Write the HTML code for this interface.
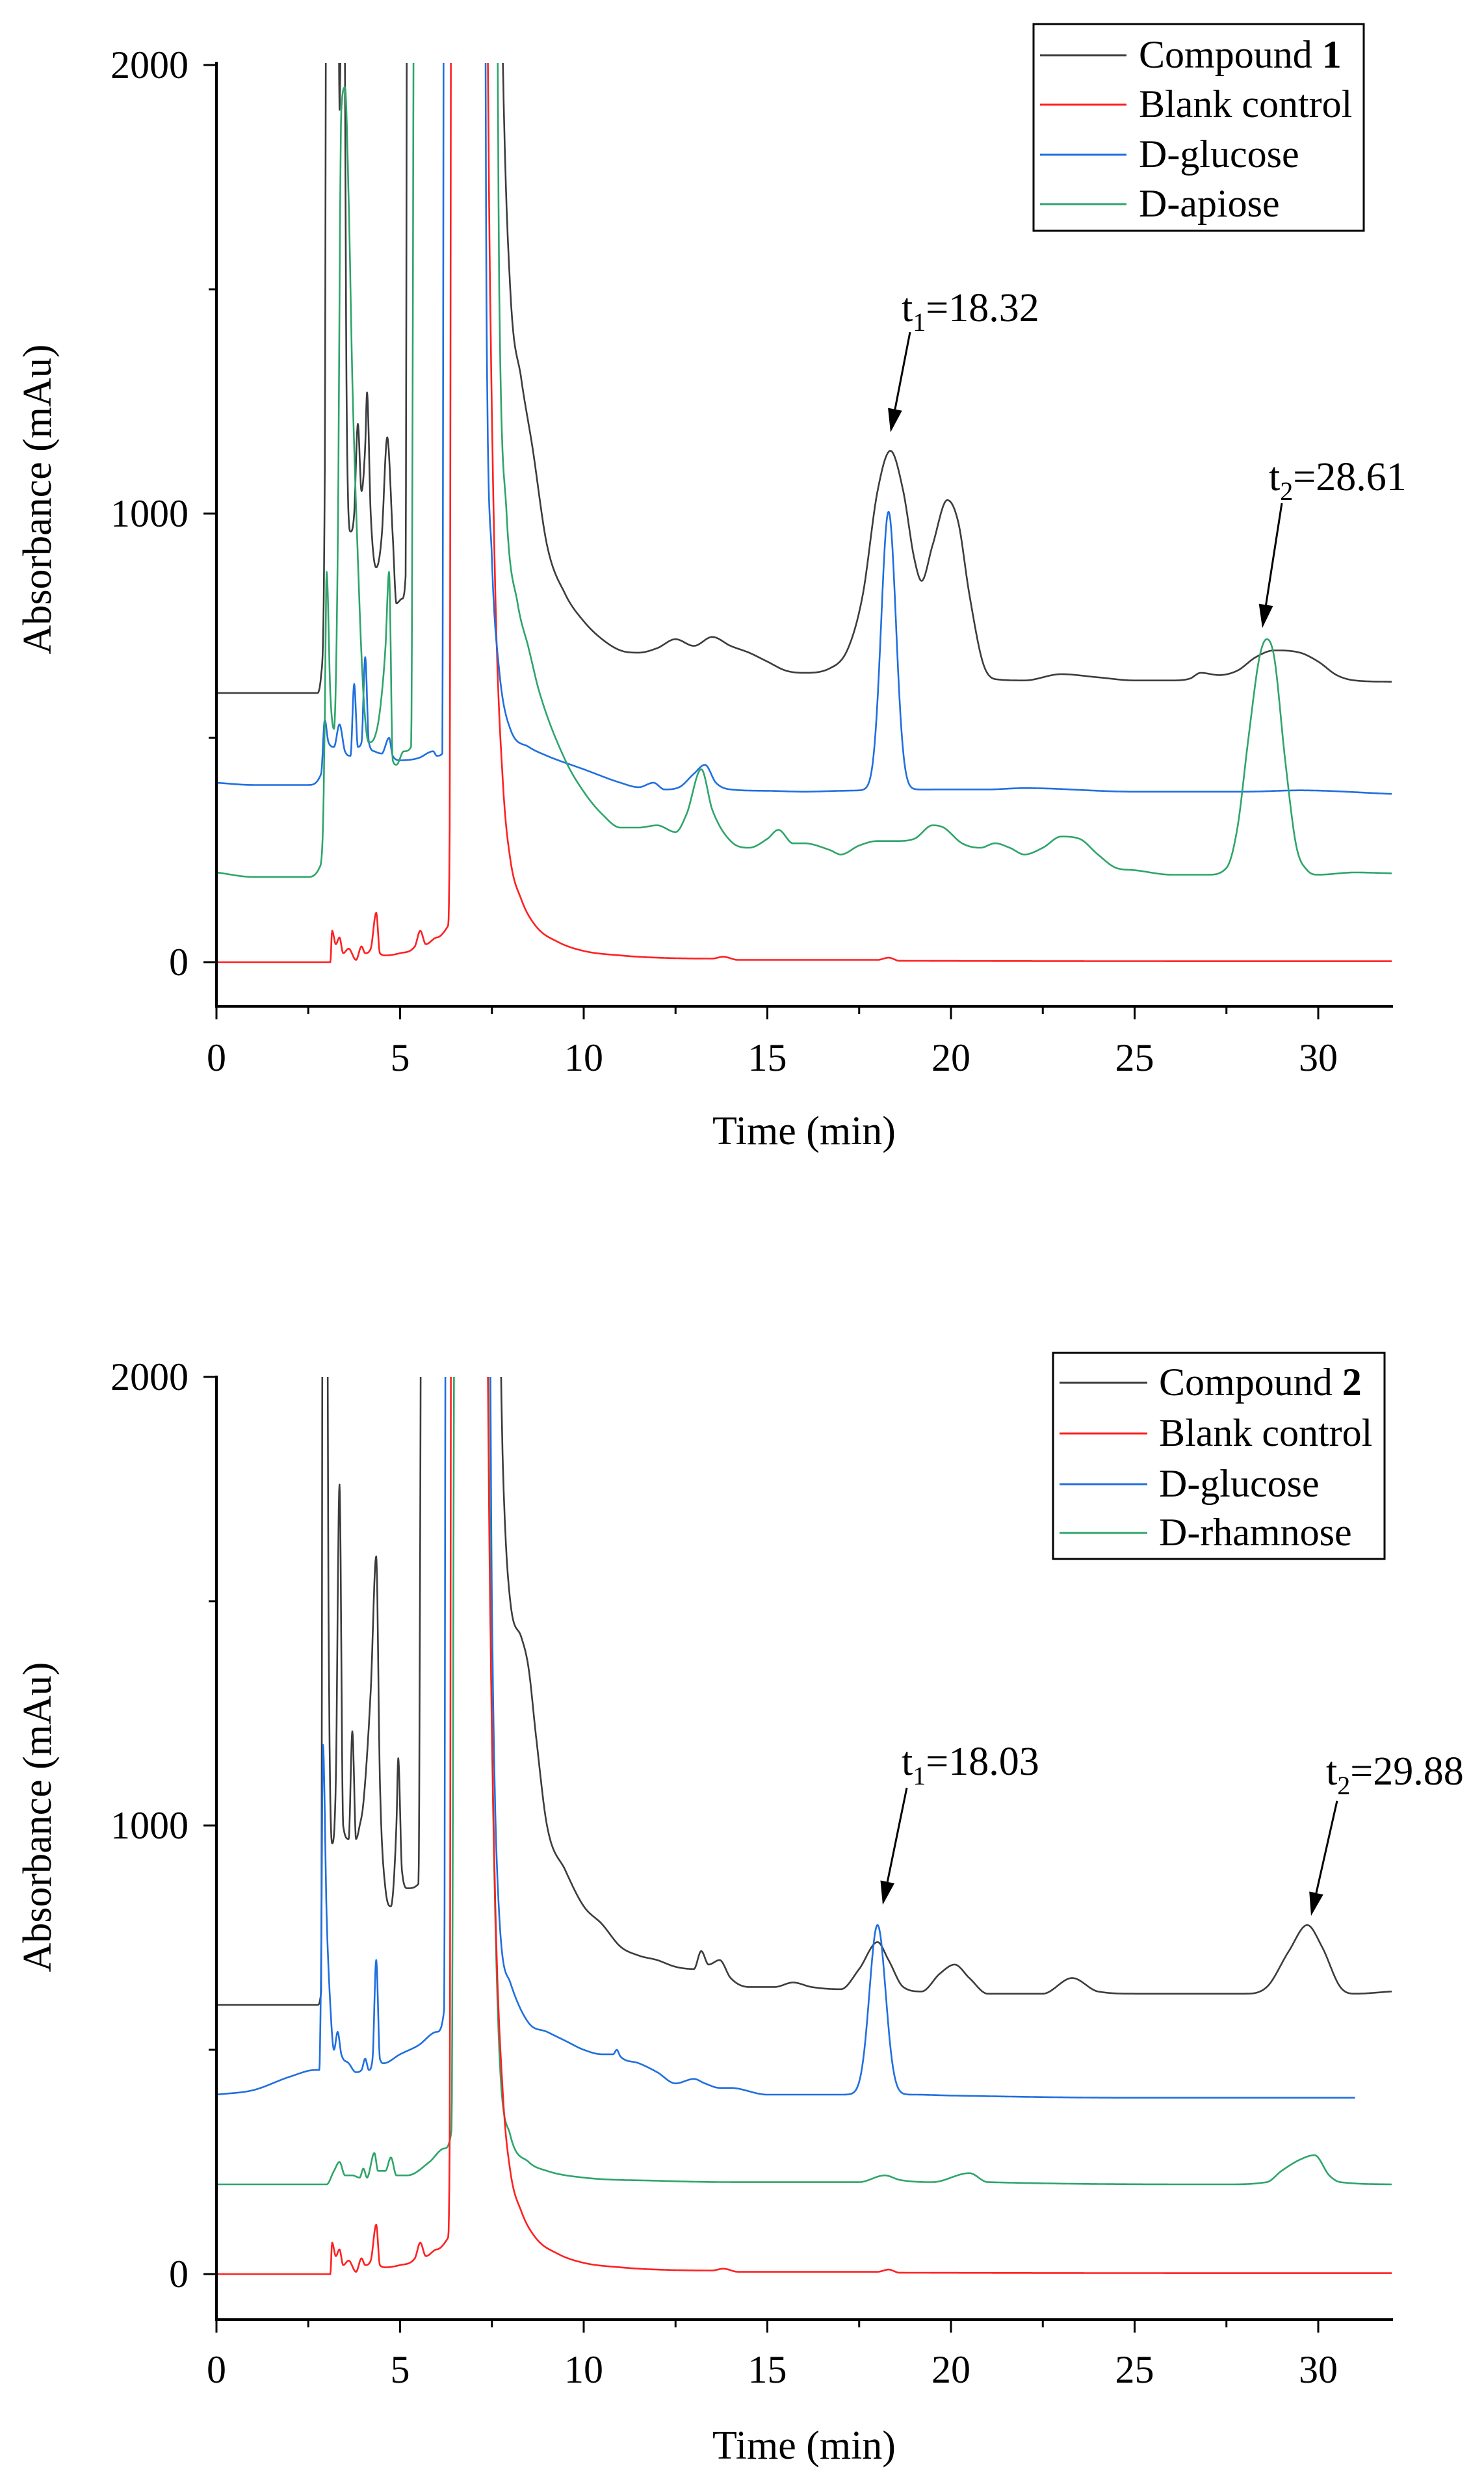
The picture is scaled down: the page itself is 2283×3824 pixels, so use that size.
<!DOCTYPE html>
<html><head><meta charset="utf-8">
<style>
html,body{margin:0;padding:0;background:#fff;}
svg{display:block;font-family:"Liberation Serif","Times New Roman",serif;}
</style></head>
<body>
<svg id="s" width="2283" height="3824" viewBox="0 0 2283 3824" xmlns="http://www.w3.org/2000/svg">
<defs>
<clipPath id="c1"><rect x="333" y="97" width="1810" height="1450"/></clipPath>
<clipPath id="c2"><rect x="333" y="2118" width="1810" height="1448"/></clipPath>
</defs>
<g id="g1" clip-path="url(#c1)"></g>
<g id="g2" clip-path="url(#c2)"></g>
<g id="ax"></g>
<rect x="1590" y="37" width="508" height="318" fill="#fff" stroke="#000" stroke-width="3"/>
<line x1="1600" y1="85" x2="1733" y2="85" stroke="#3c3c3c" stroke-width="3"/>
<line x1="1600" y1="161" x2="1733" y2="161" stroke="#ff2020" stroke-width="3"/>
<line x1="1600" y1="238" x2="1733" y2="238" stroke="#1f6fe0" stroke-width="3"/>
<line x1="1600" y1="314" x2="1733" y2="314" stroke="#2ea56a" stroke-width="3"/>
<g font-size="60" fill="#000">
<text x="1752" y="104">Compound <tspan font-weight="bold">1</tspan></text>
<text x="1752" y="180">Blank control</text>
<text x="1752" y="257">D-glucose</text>
<text x="1752" y="333">D-apiose</text>
</g>
<rect x="1620" y="2081" width="510" height="317" fill="#fff" stroke="#000" stroke-width="3"/>
<line x1="1630" y1="2127" x2="1765" y2="2127" stroke="#3c3c3c" stroke-width="3"/>
<line x1="1630" y1="2205" x2="1765" y2="2205" stroke="#ff2020" stroke-width="3"/>
<line x1="1630" y1="2283" x2="1765" y2="2283" stroke="#1f6fe0" stroke-width="3"/>
<line x1="1630" y1="2358" x2="1765" y2="2358" stroke="#2ea56a" stroke-width="3"/>
<g font-size="60" fill="#000">
<text x="1783" y="2146">Compound <tspan font-weight="bold">2</tspan></text>
<text x="1783" y="2224">Blank control</text>
<text x="1783" y="2302">D-glucose</text>
<text x="1783" y="2377">D-rhamnose</text>
</g>
<g font-size="62" fill="#000">
<text x="1387" y="494">t<tspan font-size="40" dy="15">1</tspan><tspan dy="-15">=18.32</tspan></text>
<text x="1952" y="754">t<tspan font-size="40" dy="15">2</tspan><tspan dy="-15">=28.61</tspan></text>
<text x="1387" y="2730">t<tspan font-size="40" dy="15">1</tspan><tspan dy="-15">=18.03</tspan></text>
<text x="2040" y="2745">t<tspan font-size="40" dy="15">2</tspan><tspan dy="-15">=29.88</tspan></text>
</g>
<g id="arr"></g>
</svg>
<script>
var NS="http://www.w3.org/2000/svg";
function el(p,tag,a){var e=document.createElementNS(NS,tag);for(var k in a)e.setAttribute(k,a[k]);p.appendChild(e);return e;}
function X(t){return 333+t*56.5;}
function tangents(pts){
 var n=pts.length,d=[],m=[];
 for(var i=0;i<n-1;i++)d.push((pts[i+1][1]-pts[i][1])/(pts[i+1][0]-pts[i][0]));
 m[0]=d[0];m[n-1]=d[n-2];
 for(var i=1;i<n-1;i++){ if(d[i-1]*d[i]<=0)m[i]=0; else m[i]=(d[i-1]+d[i])/2; }
 for(var i=0;i<n-1;i++){
  if(d[i]==0){m[i]=0;m[i+1]=0;continue;}
  var a=m[i]/d[i],b=m[i+1]/d[i],s=a*a+b*b;
  if(s>9){var tt=3/Math.sqrt(s);m[i]=tt*a*d[i];m[i+1]=tt*b*d[i];}
 }
 return m;
}
function interp(pts,m,t){
 if(t<=pts[0][0])return pts[0][1];
 for(var i=1;i<pts.length;i++){if(t<=pts[i][0]){
  var a=pts[i-1],b=pts[i],h=b[0]-a[0],s=(t-a[0])/h;
  var h00=2*s*s*s-3*s*s+1,h10=s*s*s-2*s*s+s,h01=-2*s*s*s+3*s*s,h11=s*s*s-s*s;
  return h00*a[1]+h10*h*m[i-1]+h01*b[1]+h11*h*m[i];}}
 return pts[pts.length-1][1];
}
function draw(g,pts,gs,col,y0,tmax){
 var m=tangents(pts);
 var Y=function(v){return y0-v*0.69;};
 var d="";var tm=tmax||32;
 for(var t=0;t<=tm+1e-6;t+=0.01){
  var v=interp(pts,m,t);
  if(gs)gs.forEach(function(q){v+=q[1]*Math.exp(-Math.pow(t-q[0],2)/(2*q[2]*q[2]));});
  if(v>2600)v=2600;
  d+=(d?"L":"M")+X(t).toFixed(1)+","+Y(v).toFixed(1);
 }
 el(g,"path",{d:d,fill:"none",stroke:col,"stroke-width":2.6,"stroke-linejoin":"round"});
}
var GR="#3c3c3c",RD="#ff2020",BL="#1f6fe0",GN="#2ea56a";
var red=[[0,0],[3.1,0],[3.15,70],[3.25,40],[3.35,55],[3.45,20],[3.6,30],[3.8,5],[3.95,35],[4.05,20],[4.2,30],[4.35,110],[4.45,20],[4.6,15],[5.0,20],[5.4,35],[5.55,70],[5.7,40],[6.0,55],[6.3,80],[6.35,300],[6.4,2600],[7.3,2600],[7.45,1500],[7.6,800],[7.8,400],[8.0,230],[8.3,140],[8.7,80],[9.3,45],[10,25],[11,15],[12,10],[13.5,8],[13.8,12],[14.2,5],[18,5],[18.3,10],[18.6,3],[32,2]];
var c1=[[0,600],[2.75,600],[2.85,640],[2.95,1100],[3.0,2600],[3.3,2600],[3.35,1900],[3.45,2600],[3.55,1200],[3.65,960],[3.75,1000],[3.85,1200],[3.95,1050],[4.05,1150],[4.1,1270],[4.2,1000],[4.35,880],[4.5,950],[4.65,1170],[4.8,950],[4.9,800],[5.05,810],[5.15,860],[5.2,2600],[7.7,2600],[7.8,2000],[8.0,1500],[8.3,1300],[8.6,1150],[9.0,930],[9.5,820],[10,760],[10.5,720],[11,695],[11.5,690],[12,700],[12.5,720],[13,705],[13.5,725],[14,705],[14.5,690],[15,670],[15.5,650],[16,645],[16.7,655],[17.2,700],[17.6,820],[18.0,1050],[18.35,1140],[18.7,1050],[19.0,900],[19.2,850],[19.5,930],[19.9,1030],[20.2,980],[20.5,820],[20.9,660],[21.3,630],[22,628],[23,642],[24,635],[25,628],[26,628],[26.5,632],[26.8,645],[27.3,640],[27.8,650],[28.3,680],[28.8,695],[29.5,690],[30,670],[30.5,640],[31,628],[32,625]];
var b1=[[0,400],[1,395],[2.5,395],[2.85,420],[2.95,540],[3.05,490],[3.2,480],[3.35,530],[3.5,470],[3.65,460],[3.75,620],[3.85,480],[3.95,490],[4.05,680],[4.15,490],[4.3,470],[4.5,465],[4.7,500],[4.8,460],[5,450],[5.5,455],[5.9,470],[6.0,460],[6.15,465],[6.2,2600],[7.3,2600],[7.35,1500],[7.5,900],[7.7,650],[8.0,520],[8.5,480],[9,460],[10,430],[11,400],[11.5,390],[11.9,400],[12.2,385],[12.6,390],[13.0,420],[13.3,440],[13.6,400],[14,385],[15,382],[16,380],[17,382],[19.5,385],[21,385],[22,388],[25,380],[28,380],[29.5,383],[32,375]];
var g1=[[0,200],[1,190],[2.5,190],[2.8,210],[2.9,300],[2.95,550],[3.0,870],[3.1,600],[3.2,520],[3.3,900],[3.4,1900],[3.5,1950],[3.6,1700],[3.7,1300],[3.85,900],[4.0,600],[4.15,490],[4.3,500],[4.45,560],[4.6,700],[4.7,870],[4.8,450],[4.9,440],[5.1,470],[5.3,480],[5.4,2600],[7.6,2600],[7.7,1500],[7.9,1000],[8.2,800],[8.5,700],[8.8,600],[9.5,450],[10,380],[10.5,330],[11,300],[11.5,300],[12,305],[12.5,290],[12.8,330],[13.2,430],[13.5,340],[14,270],[14.5,255],[15,275],[15.3,295],[15.7,265],[16,265],[16.7,250],[17,240],[17.5,260],[18,270],[18.5,270],[19,275],[19.5,305],[19.8,300],[20.3,265],[20.8,255],[21.2,265],[21.6,255],[22,240],[22.5,255],[23,280],[23.5,275],[24,240],[24.5,210],[25,205],[26,195],[27,195],[27.5,210],[27.8,300],[28.1,500],[28.4,680],[28.6,720],[28.8,680],[29.1,450],[29.4,260],[29.7,205],[30,195],[31,200],[32,198]];
var c2=[[0,600],[2.75,600],[2.85,630],[2.9,2600],[3.0,2600],[3.05,1500],[3.15,960],[3.25,1100],[3.35,1760],[3.45,1000],[3.6,970],[3.7,1210],[3.8,970],[3.9,1000],[4.0,1050],[4.2,1300],[4.35,1600],[4.45,1100],[4.6,860],[4.75,820],[4.9,1000],[4.95,1150],[5.05,900],[5.2,860],[5.5,870],[5.6,2600],[7.6,2600],[7.8,1800],[8,1500],[8.3,1420],[8.5,1350],[8.7,1200],[9,1000],[9.5,900],[10,820],[10.5,780],[11,730],[11.5,710],[12,700],[12.5,685],[13,680],[13.2,720],[13.4,690],[13.7,700],[14,660],[14.5,640],[15.2,640],[15.7,650],[16.2,640],[17,635],[17.5,680],[18,740],[18.3,700],[18.7,640],[19.2,630],[19.7,670],[20.1,690],[20.5,660],[21,625],[22.5,625],[23.3,660],[24,630],[25,625],[27,625],[28,625],[28.6,640],[29.2,720],[29.7,778],[30.1,730],[30.6,640],[31,625],[32,630]];
var b2=[[0,400],[1,410],[2,440],[2.7,455],[2.8,455],[2.85,700],[2.9,1180],[3.0,800],[3.1,600],[3.2,500],[3.3,540],[3.4,490],[3.6,470],[3.8,450],[3.95,455],[4.05,480],[4.15,455],[4.25,480],[4.35,700],[4.45,480],[4.55,470],[5,490],[5.5,510],[6,540],[6.2,590],[6.25,2600],[7.4,2600],[7.5,1500],[7.7,800],[8,650],[8.5,560],[9,540],[9.5,520],[10,500],[10.5,490],[10.8,490],[10.9,500],[11,485],[11.5,470],[12,450],[12.5,425],[13,435],[13.3,425],[13.7,415],[14,415],[15,400],[17,400],[19,400],[20,398],[25,393],[31,393]];
var gg2=[[0,200],[3.0,200],[3.2,230],[3.35,250],[3.5,220],[3.7,220],[3.9,215],[4.0,235],[4.1,215],[4.3,270],[4.4,230],[4.6,230],[4.75,260],[4.9,220],[5.2,220],[5.8,250],[6.2,280],[6.4,320],[6.5,2600],[7.3,2600],[7.5,1200],[7.7,500],[8,310],[8.5,250],[9,230],[10,215],[12,208],[14,205],[17.5,205],[18.2,220],[18.6,210],[19.5,205],[20.5,225],[21,205],[27.5,200],[28.6,205],[29,230],[29.5,255],[29.9,265],[30.3,220],[30.6,205],[32,200]];
var G1=document.getElementById("g1"),G2=document.getElementById("g2");
draw(G1,c1,null,GR,1480);
draw(G1,red,null,RD,1480);
draw(G1,b1,[[18.3,620,0.2]],BL,1480);
draw(G1,g1,null,GN,1480);
draw(G2,c2,null,GR,3498);
draw(G2,b2,[[18.0,378,0.22]],BL,3498,31);
draw(G2,gg2,null,GN,3498);
draw(G2,red,null,RD,3498);
var A=document.getElementById("ax");
function axes(y0,yTop,yBot,labY,titY,ylabY){
 el(A,"line",{x1:333,y1:yTop,x2:333,y2:yBot,stroke:"#000","stroke-width":4});
 el(A,"line",{x1:331,y1:yBot,x2:2143,y2:yBot,stroke:"#000","stroke-width":4});
 for(var t=0;t<=32;t+=2.5){var maj=(t%5==0);el(A,"line",{x1:X(t),y1:yBot,x2:X(t),y2:yBot+(maj?20:12),stroke:"#000","stroke-width":3});
  if(maj){var tx=el(A,"text",{x:X(t),y:labY,"font-size":60,"text-anchor":"middle"});tx.textContent=t;}}
 for(var v=0;v<=2000;v+=500){var maj=(v%1000==0);var yy=y0-v*0.69;el(A,"line",{x1:333,y1:yy,x2:333-(maj?20:12),y2:yy,stroke:"#000","stroke-width":3});
  if(maj){var tx=el(A,"text",{x:290,y:yy+20,"font-size":60,"text-anchor":"end"});tx.textContent=v;}}
 var tt=el(A,"text",{x:1237,y:titY,"font-size":62,"text-anchor":"middle"});tt.textContent="Time (min)";
 var yl=el(A,"text",{x:0,y:0,"font-size":62,"text-anchor":"middle",transform:"translate(78,"+ylabY+") rotate(-90)"});yl.textContent="Absorbance (mAu)";
}
axes(1480,95,1548,1647,1760,768);
axes(3498,2116,3568,3665,3782,2795);
var R=document.getElementById("arr");
function arrow(x1,y1,x2,y2){
 var dx=x2-x1,dy=y2-y1,L=Math.sqrt(dx*dx+dy*dy),ux=dx/L,uy=dy/L,h=36,w=11;
 var bx=x2-ux*h,by=y2-uy*h;
 el(R,"line",{x1:x1,y1:y1,x2:bx,y2:by,stroke:"#000","stroke-width":3});
 el(R,"polygon",{points:x2+","+y2+" "+(bx-uy*w)+","+(by+ux*w)+" "+(bx+uy*w)+","+(by-ux*w),fill:"#000"});
}
arrow(1400,511,1370,665);
arrow(1972,774,1942,966);
arrow(1395,2750,1358,2930);
arrow(2057,2770,2017,2947);
</script>
</body></html>
